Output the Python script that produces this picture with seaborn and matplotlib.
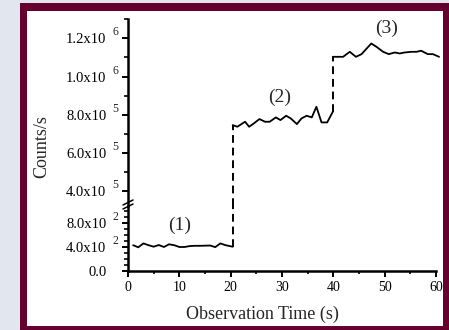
import numpy as np
import pandas as pd
import seaborn as sns
import matplotlib.pyplot as plt
from matplotlib.patches import Rectangle
from matplotlib.lines import Line2D
from matplotlib.ticker import MultipleLocator, FixedLocator
from matplotlib.transforms import blended_transform_factory, ScaledTranslation

# region (1): low count rate, region (2) and (3): high count rates
t1 = [1, 2, 3, 4, 5, 6, 7, 8, 9, 10, 11, 12, 13, 14, 15, 16, 17, 18, 19, 20.4]
c1 = [430, 395, 460, 430, 405, 433, 400, 445, 430, 400, 400, 415, 420, 420, 422, 425, 398, 460, 430, 405]
t2 = [20.4, 21.3, 22.8, 23.6, 24.5, 25.6, 26.7, 27.6, 28.8, 29.7, 30.8, 31.7, 32.9, 33.8, 34.8, 35.8, 36.7, 37.7, 38.8, 39.9]
c2 = [745500, 736800, 763000, 736800, 754000, 777000, 763000, 763000, 785700, 771700,
      794400, 780500, 750800, 780500, 794400, 785700, 841500, 759500, 759500, 815400]
t3 = [39.9, 40.9, 41.9, 43.2, 44.4, 45.5, 46.5, 47.4, 48.4, 49.7,
      50.8, 52.0, 52.9, 53.9, 55.2, 56.2, 57.1, 58.4, 59.4, 60.6]
c3 = [1103300, 1103300, 1103300, 1129500, 1103300, 1117300, 1147000, 1173100, 1155700, 1129500,
      1117300, 1126000, 1120800, 1126000, 1129500, 1129500, 1135200, 1117300, 1117300, 1103300]

labels = ["(1)", "(2)", "(3)"]
label_t = [10.1, 29.6, 50.4]
label_c = [760, 890000, 1252000]

low_ticks = [0, 400, 800]
low_ticklabels = ["0.0", "4.0x10", "8.0x10"]
low_exps = ["", "2", "2"]
high_ticks = [4e5, 6e5, 8e5, 1.0e6, 1.2e6]
high_ticklabels = ["4.0x10", "6.0x10", "8.0x10", "1.0x10", "1.2x10"]
high_exps = ["5", "5", "5", "6", "6"]

sns.set_style("ticks")
plt.rcParams["font.family"] = ["Liberation Serif", "DejaVu Serif"]

W, H = 449, 330
fig = plt.figure(figsize=(W / 100, H / 100), dpi=100)
fig.patch.set_facecolor("#e2e6ef")


def fx(px):
    return px / W


def fy(py):
    return 1 - py / H


fig.patches.append(Rectangle((fx(20), 0), 1 - fx(20), fy(3), transform=fig.transFigure,
                             facecolor="#65002f", edgecolor="none", zorder=-2))
fig.patches.append(Rectangle((fx(27), fy(326)), fx(443) - fx(27), fy(11) - fy(326),
                             transform=fig.transFigure, facecolor="white", edgecolor="none", zorder=-1))

x0, x1 = fx(128), fx(436)
brk = 206
ax_lo = fig.add_axes([x0, fy(271), x1 - x0, fy(brk) - fy(271)])
ax_hi = fig.add_axes([x0, fy(brk), x1 - x0, fy(18.7) - fy(brk)])

lo_top = (271 - brk) / 24 * 400
hi_bot = 4e5 - (brk - 191) / 38.2 * 2e5

line_kw = dict(color="black", linewidth=1.3)
dash = (0, (4, 2.5))

df1 = pd.DataFrame({"t": t1, "c": c1})
df2 = pd.DataFrame({"t": t2, "c": c2})
df3 = pd.DataFrame({"t": t3, "c": c3})
sns.lineplot(data=df1, x="t", y="c", ax=ax_lo, **line_kw)
sns.lineplot(data=df2, x="t", y="c", ax=ax_hi, **line_kw)
sns.lineplot(data=df3, x="t", y="c", ax=ax_hi, **line_kw)
for ln in ax_hi.get_lines():
    ln.set_clip_on(False)

# dashed jumps between regions
ax_lo.plot([t1[-1], t1[-1]], [c1[-1], lo_top], color="black", lw=1.4, linestyle=dash, clip_on=False)
ax_hi.plot([t2[0], t2[0]], [hi_bot, c2[0]], color="black", lw=1.4, linestyle=dash, clip_on=False)
ax_hi.plot([t3[0], t3[0]], [c2[-1], c3[0]], color="black", lw=1.4, linestyle=dash)

for ax in (ax_lo, ax_hi):
    ax.set_facecolor("none")
    ax.set_xlim(0, 60)
    ax.set_xlabel("")
    ax.set_ylabel("")
    for s in ("top", "right"):
        ax.spines[s].set_visible(False)
    ax.spines["left"].set_linewidth(1.8)
    ax.spines["left"].set_color("black")
    ax.tick_params(axis="y", which="major", length=4, width=1.4, labelsize=10.5, pad=11.5, colors="black")
    ax.tick_params(axis="y", which="minor", length=3, width=1.2, colors="black")

ax_lo.set_ylim(0, lo_top)
ax_lo.yaxis.set_major_locator(FixedLocator(low_ticks))
ax_lo.set_yticklabels(low_ticklabels)
ax_lo.yaxis.set_minor_locator(MultipleLocator(100))
ax_lo.spines["bottom"].set_linewidth(1.8)
ax_lo.spines["bottom"].set_color("black")
ax_lo.xaxis.set_major_locator(MultipleLocator(10))
ax_lo.xaxis.set_minor_locator(MultipleLocator(5))
ax_lo.tick_params(axis="x", which="major", length=4, width=1.4, labelsize=10, pad=3, colors="black")
ax_lo.tick_params(axis="x", which="minor", length=2.5, width=1.2, colors="black")

ax_hi.set_ylim(hi_bot, 1.303e6)
ax_hi.yaxis.set_major_locator(FixedLocator(high_ticks))
ax_hi.set_yticklabels(high_ticklabels)
ax_hi.yaxis.set_minor_locator(MultipleLocator(1e5))
ax_hi.spines["bottom"].set_visible(False)
ax_hi.tick_params(axis="x", which="both", bottom=False, labelbottom=False)

# exponents drawn as raised small digits after the tick labels
raise_px = ScaledTranslation(0, 6 / 100, fig.dpi_scale_trans)
for ax, ticks, exps in ((ax_lo, low_ticks, low_exps), (ax_hi, high_ticks, high_exps)):
    tr = blended_transform_factory(fig.transFigure, ax.transData) + raise_px
    for v, e in zip(ticks, exps):
        if e:
            ax.text(fx(112.5), v, e, transform=tr, ha="left", va="center", fontsize=8.5, clip_on=False)

ax_lo.text(label_t[0], label_c[0], labels[0], ha="center", va="center", fontsize=14)
ax_hi.text(label_t[1], label_c[1], labels[1], ha="center", va="center", fontsize=14)
ax_hi.text(label_t[2], label_c[2], labels[2], ha="center", va="center", fontsize=14)

# axis break marks
for off in (0, 4):
    fig.add_artist(Line2D([fx(123), fx(133)], [fy(brk + 3 - off), fy(brk - 2 - off)],
                          transform=fig.transFigure, color="black", lw=1.1))

fig.text(fx(42), fy(147), "Counts/s", rotation=90, ha="center", va="center", fontsize=13)
fig.text(fx(262), fy(314), "Observation Time (s)", ha="center", va="center", fontsize=13)

fig.savefig("out.png", dpi=100)
